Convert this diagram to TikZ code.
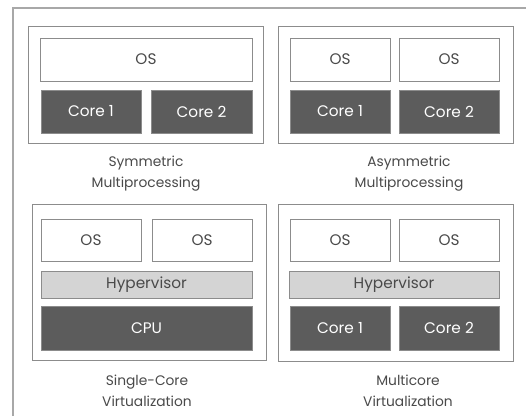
\documentclass[tikz,border=0pt]{standalone}
\usepackage{fontspec}
\setmainfont{Poppins}
\definecolor{frameg}{HTML}{A8A8A8}
\definecolor{boxg}{HTML}{8C8C8C}
\definecolor{darkg}{HTML}{5C5C5C}
\definecolor{hypg}{HTML}{D4D4D4}
\definecolor{txtg}{HTML}{4A4A4A}
\begin{document}
\begin{tikzpicture}[x=1pt,y=-1pt,
  panel/.style={draw=boxg,line width=0.9pt,inner sep=0pt},
  osbox/.style={draw=boxg,line width=0.8pt,fill=white,inner sep=0pt,font=\fontsize{15.3}{17}\selectfont,text=txtg},
  corebox/.style={draw=boxg,line width=0.6pt,fill=darkg,inner sep=0pt,font=\fontsize{15.3}{17}\selectfont,text=white},
  hypbox/.style={draw=boxg,line width=0.8pt,fill=hypg,inner sep=0pt,font=\fontsize{15.3}{17}\selectfont,text=txtg},
  caption/.style={align=center,inner sep=0pt,font=\fontsize{13.8}{21}\selectfont,text=txtg}]
\path[use as bounding box,fill=white] (0,0) rectangle (526,416);
\draw[frameg,line width=1.2pt] (13,416) -- (13,8) -- (526,8);
% panels
\node[panel,minimum width=235pt,minimum height=117pt] (p1) at (145.5,84.5) {};
\node[panel,minimum width=235pt,minimum height=117pt] (p2) at (395.5,84.5) {};
\node[panel,minimum width=234pt,minimum height=156pt] (p3) at (149,282) {};
\node[panel,minimum width=235pt,minimum height=157pt] (p4) at (395.5,282.5) {};
% panel 1
\node[osbox,minimum width=212pt,minimum height=43pt] (p1os) at (146,59.5) {OS};
\node[corebox,minimum width=100pt,minimum height=43pt] (p1c1) at (91,111.5) {Core 1};
\node[corebox,minimum width=101pt,minimum height=43pt] (p1c2) at (201.5,111.5) {Core 2};
\node[caption] (p1cap) at (146,173.5) {Symmetric\\Multiprocessing};
% panel 2
\node[osbox,minimum width=100pt,minimum height=43pt] (p2os1) at (340,59.5) {OS};
\node[osbox,minimum width=100pt,minimum height=43pt] (p2os2) at (449,59.5) {OS};
\node[corebox,minimum width=100pt,minimum height=43pt] (p2c1) at (340,111.5) {Core 1};
\node[corebox,minimum width=100pt,minimum height=43pt] (p2c2) at (449,111.5) {Core 2};
\node[caption] (p2cap) at (409,173.5) {Asymmetric\\Multiprocessing};
% panel 3
\node[osbox,minimum width=100pt,minimum height=42pt] (p3os1) at (91,240) {OS};
\node[osbox,minimum width=100pt,minimum height=42pt] (p3os2) at (202,240) {OS};
\node[hypbox,minimum width=211pt,minimum height=27pt] (p3hyp) at (146.5,284.5) {Hypervisor};
\node[corebox,minimum width=211pt,minimum height=44pt] (p3cpu) at (146.5,328) {CPU};
\node[caption] (p3cap) at (147,391) {Single-Core\\Virtualization};
% panel 4
\node[osbox,minimum width=100pt,minimum height=42pt] (p4os1) at (340,240) {OS};
\node[osbox,minimum width=100pt,minimum height=42pt] (p4os2) at (449,240) {OS};
\node[hypbox,minimum width=210pt,minimum height=27pt] (p4hyp) at (394,284.5) {Hypervisor};
\node[corebox,minimum width=100pt,minimum height=44pt] (p4c1) at (340,328) {Core 1};
\node[corebox,minimum width=100pt,minimum height=44pt] (p4c2) at (449,328) {Core 2};
\node[caption] (p4cap) at (408,391) {Multicore\\Virtualization};
\end{tikzpicture}
\end{document}
